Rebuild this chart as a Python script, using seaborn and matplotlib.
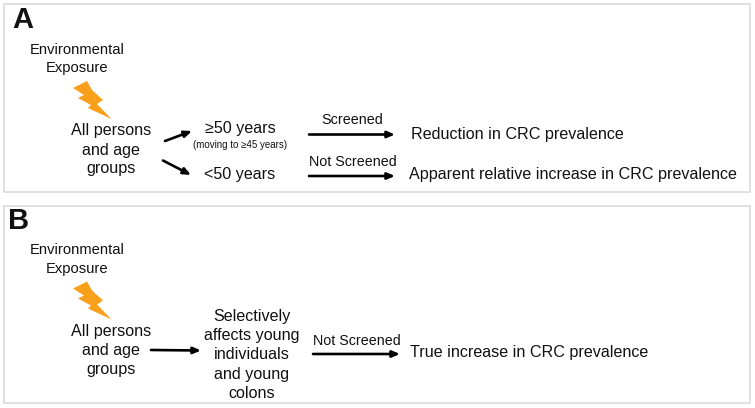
import matplotlib
matplotlib.use("Agg")
import matplotlib.pyplot as plt
from matplotlib.patches import Polygon, Rectangle
import seaborn as sns

sns.set_theme(style="white")
plt.rcParams['font.family'] = ['Liberation Sans', 'DejaVu Sans']

PANELS = ["A", "B"]
EXPOSURE = "Environmental\nExposure"
ALL_PERSONS = ["All persons", "and age", "groups"]
GROUP_OLD = "≥50 years"
GROUP_OLD_NOTE = "(moving to ≥45 years)"
GROUP_YOUNG = "<50 years"
SCREENED = "Screened"
NOT_SCREENED = "Not Screened"
OUT_REDUCTION = "Reduction in CRC prevalence"
OUT_APPARENT = "Apparent relative increase in CRC prevalence"
OUT_TRUE = "True increase in CRC prevalence"
SELECTIVE = ["Selectively", "affects young", "individuals", "and young", "colons"]

W, H = 755, 408
fig = plt.figure(figsize=(W / 100, H / 100), dpi=100)
ax = fig.add_axes([0, 0, 1, 1])
ax.set_xlim(0, W)
ax.set_ylim(H, 0)
ax.axis("off")

EDGE = "#d9d9d9"
ax.add_patch(Rectangle((3.5, 3.5), 746, 188, fc="white", ec=EDGE, lw=1.1))
ax.add_patch(Rectangle((3.5, 205.5), 746, 197.5, fc="white", ec=EDGE, lw=1.1))


def label(x, y, s, size=11.65, **kw):
    kw.setdefault("ha", "center")
    ax.text(x, y, s, fontsize=size, va="center", color="#111111", **kw)


def arrow(x0, y0, x1, y1, lw=1.9):
    ax.annotate("", xy=(x1, y1), xytext=(x0, y0),
                arrowprops=dict(arrowstyle="-|>,head_length=0.4,head_width=0.17",
                                color="black", lw=lw, shrinkA=0, shrinkB=0,
                                mutation_scale=11))


def bolt(dy):
    pts = [(73, 88), (87, 81), (92, 90), (103, 100), (97, 104), (111.5, 119),
           (88, 108), (91, 105), (78, 98), (84, 95)]
    ax.add_patch(Polygon([(x, y + dy) for x, y in pts], fc="#F9A01B", ec="none"))


label(23, 19.5, PANELS[0], size=21, weight="bold")
label(18.5, 221, PANELS[1], size=21, weight="bold")

for dy in (0, 200.5):
    label(77.5, 49.5 + dy, EXPOSURE.split("\n")[0], size=10.6)
    label(77.5, 68 + dy, EXPOSURE.split("\n")[1], size=10.6)
    bolt(dy)
    for i, s in enumerate(ALL_PERSONS):
        label(111, 131 + dy + i * 19, s)

arrow(165, 141, 192, 131)
arrow(163, 160.5, 191, 175)
label(240, 129, GROUP_OLD)
label(240, 144.5, GROUP_OLD_NOTE, size=7)
label(240, 174.5, GROUP_YOUNG)
arrow(309, 134.5, 395, 134.5)
arrow(309, 176, 395, 176)
label(352, 120.5, SCREENED, size=10.4)
label(353, 162.5, NOT_SCREENED, size=10.3)
label(411, 134, OUT_REDUCTION, ha="left")
label(409, 174, OUT_APPARENT, ha="left")

arrow(151, 350, 201, 350.5)
for s, y in zip(SELECTIVE, (316, 335.5, 354.5, 375, 394)):
    label(252, y, s)
arrow(313, 354, 400, 354)
label(356.5, 341, NOT_SCREENED, size=10.3)
label(410, 352.5, OUT_TRUE, ha="left")

fig.savefig("out.png", dpi=100, facecolor="white")
